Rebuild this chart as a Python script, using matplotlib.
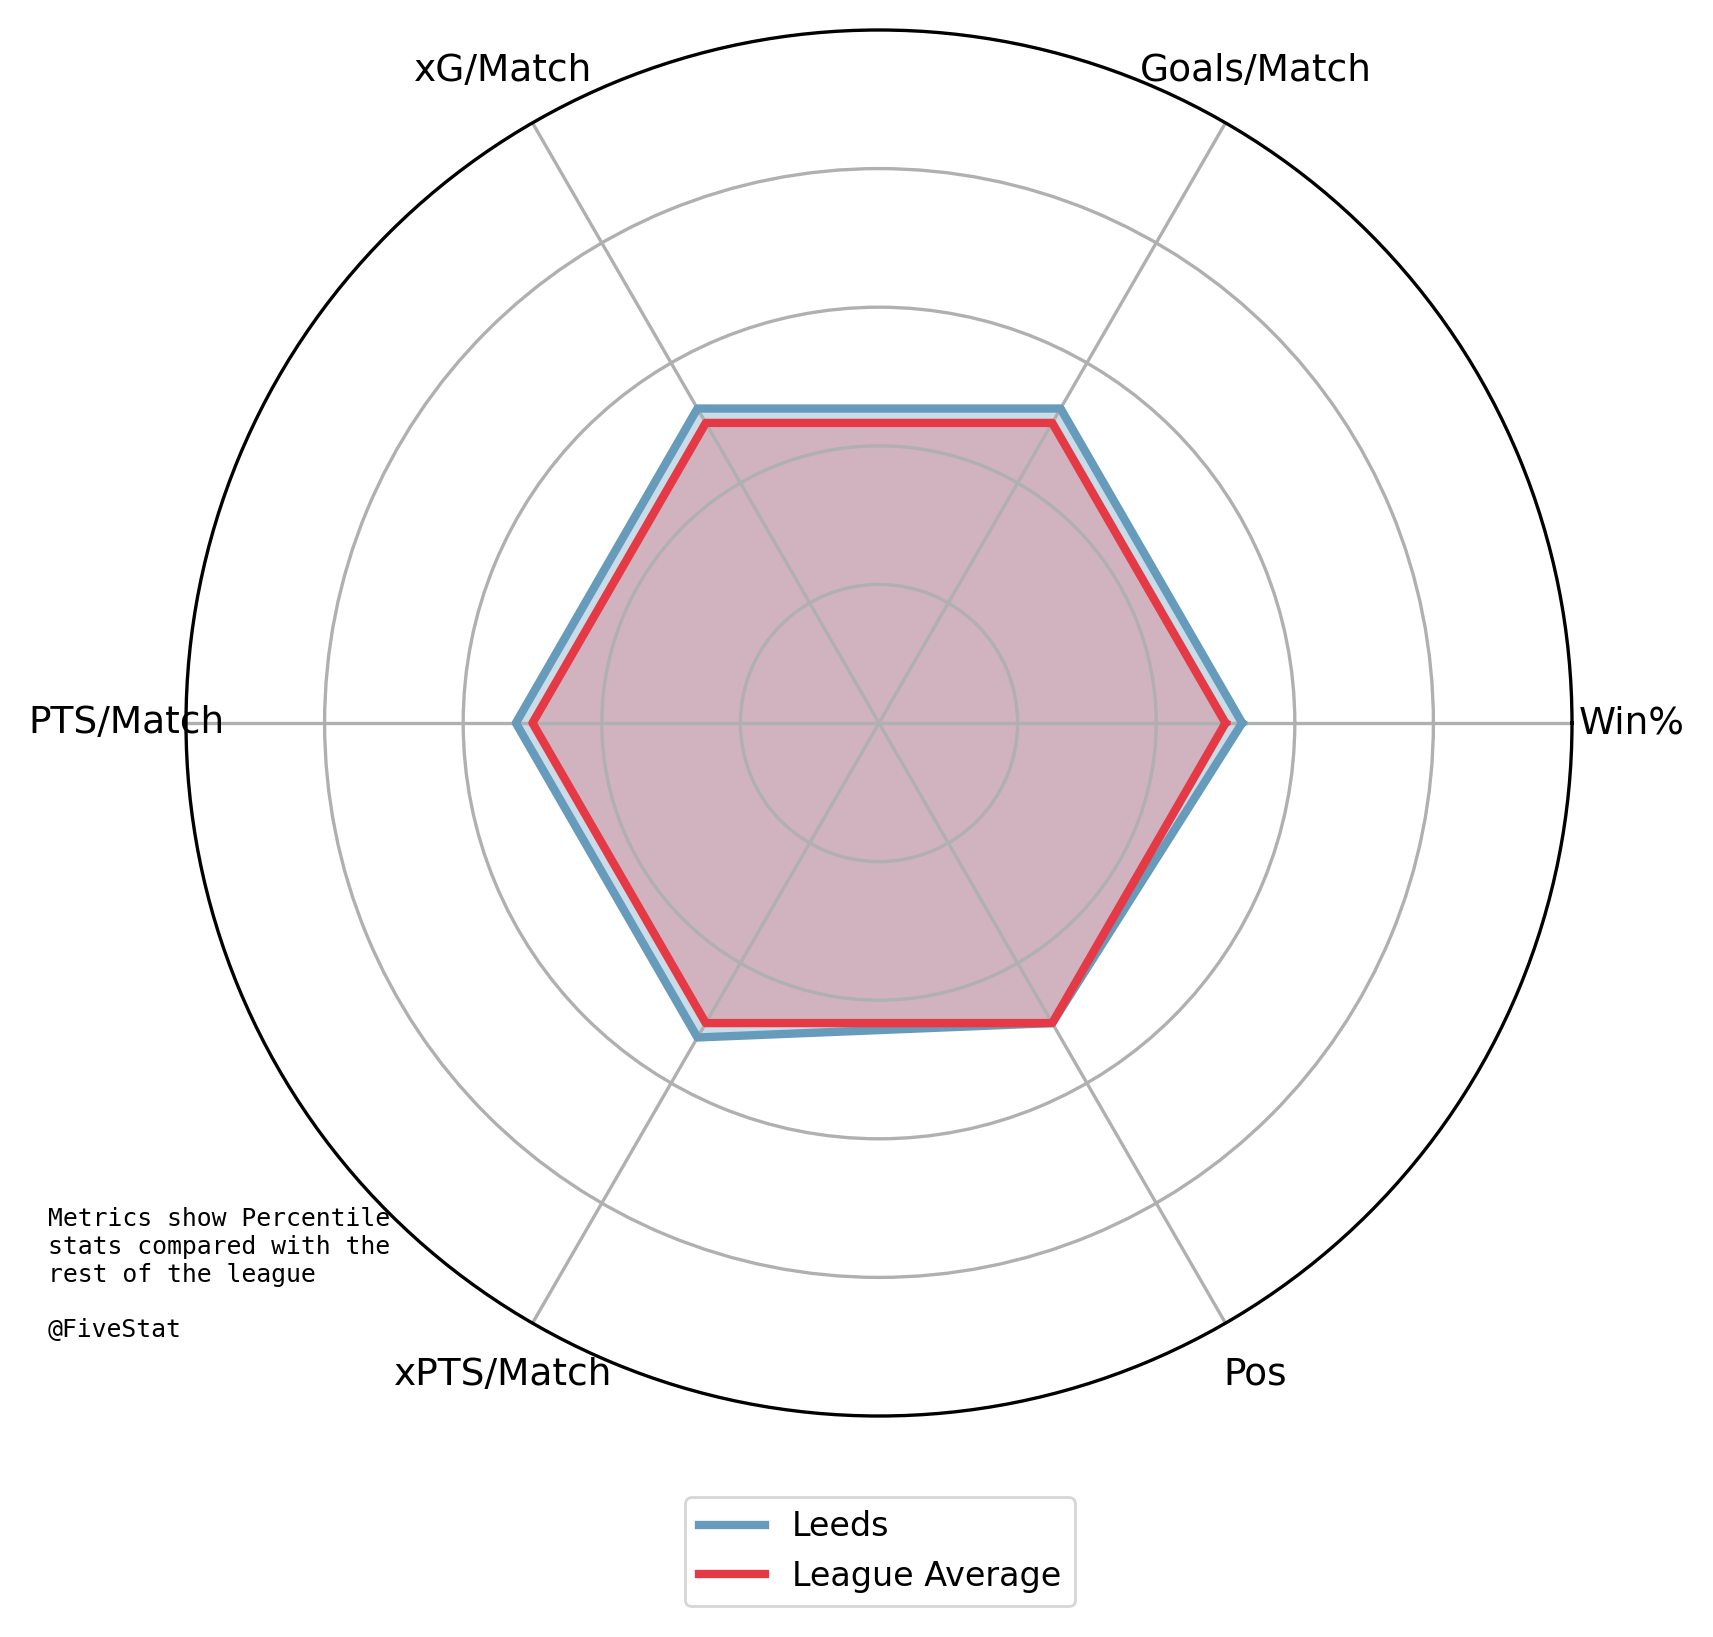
import numpy as np
import matplotlib
matplotlib.use("Agg")
import matplotlib.pyplot as plt

# Percentile values per metric
categories = ['Win%', 'Goals/Match', 'xG/Match', 'PTS/Match', 'xPTS/Match', 'Pos']
leeds = [52.4, 52.4, 52.4, 52.4, 52.4, 50.0]
league_avg = [50.0, 50.0, 50.0, 50.0, 50.0, 50.0]
team_name = 'Leeds'

blue = '#669bbc'
red = '#e63946'

W, H, DPI = 1713, 1637, 200
fig = plt.figure(figsize=(W / DPI, H / DPI), dpi=DPI)

# polar axes: centre (879, 723) px from top-left, radius 693 px
cx, cy, R = 879, 723, 693
ax = fig.add_axes([(cx - R) / W, (H - cy - R) / H, 2 * R / W, 2 * R / H], polar=True)

angles = np.linspace(0, 2 * np.pi, len(categories), endpoint=False).tolist()
angles += angles[:1]
leeds_c = leeds + leeds[:1]
avg_c = league_avg + league_avg[:1]

ax.plot(angles, leeds_c, color=blue, linewidth=3, label=team_name)
ax.fill(angles, leeds_c, color=blue, alpha=0.35)
ax.plot(angles, avg_c, color=red, linewidth=3, label='League Average')
ax.fill(angles, avg_c, color=red, alpha=0.25)

ax.set_ylim(0, 100)
ax.set_yticks([20, 40, 60, 80])
ax.set_yticklabels([])
ax.set_xticks(angles[:-1])
ax.set_xticklabels(categories, fontsize=13.5)
ax.tick_params(axis='x', pad=11)
ax.grid(color='#b0b0b0', linewidth=1.2)
ax.spines['polar'].set_linewidth(1.2)

ax.legend(loc='upper center', bbox_to_anchor=(880 / W, 1 - 1497 / H),
          bbox_transform=fig.transFigure, borderaxespad=0, fontsize=12)

fig.text(48 / W, 1 - 1207 / H,
         'Metrics show Percentile\nstats compared with the\nrest of the league\n\n@FiveStat',
         family='DejaVu Sans Mono', fontsize=8.9, ha='left', va='top')

fig.savefig('out.png', dpi=DPI)
